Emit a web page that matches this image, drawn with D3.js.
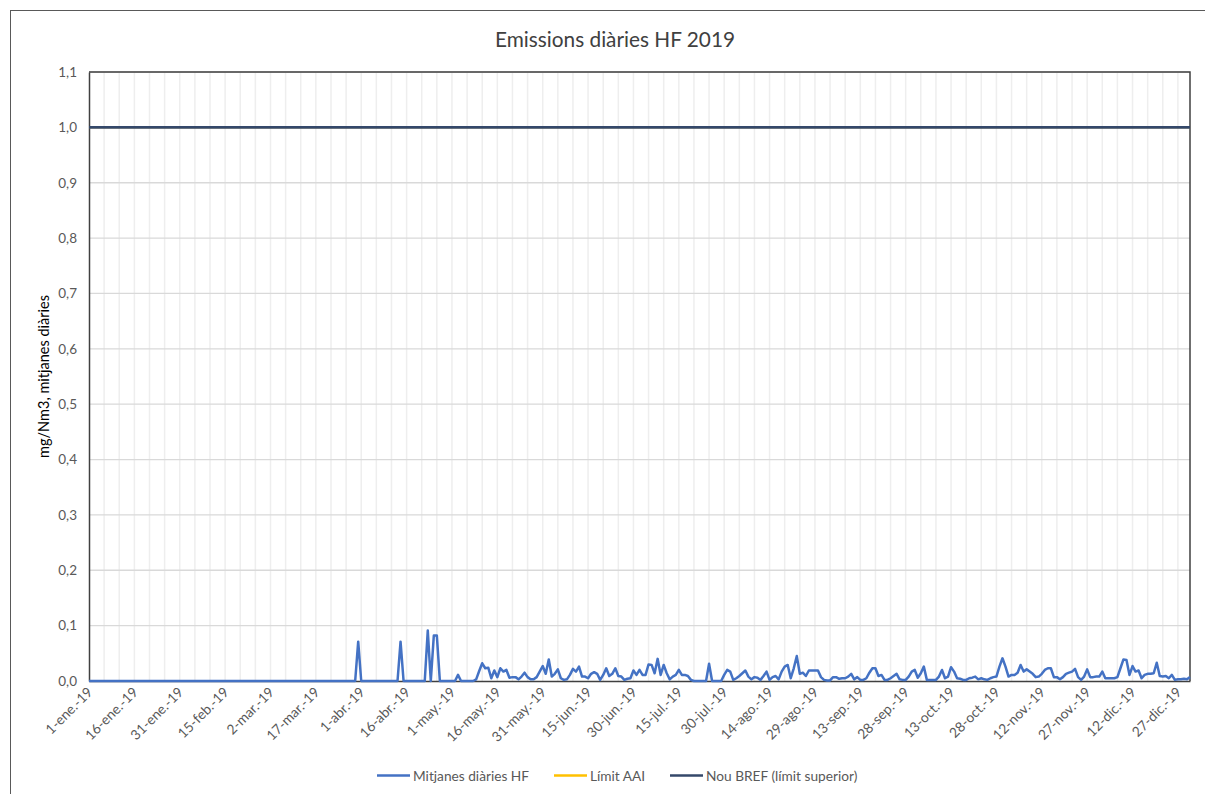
<!DOCTYPE html>
<html>
<head>
<meta charset="utf-8">
<script src="https://cdn.jsdelivr.net/npm/d3@7"></script>
<style>
  html, body { margin: 0; padding: 0; background: #ffffff; }
  svg { display: block; font-family: Lato, "Liberation Sans", sans-serif; }
</style>
</head>
<body>
<svg id="chart" width="1205" height="794"></svg>
<script>
// Daily HF averages for 2019 (mg/Nm3), one value per day from 1 Jan to 31 Dec
const dailyHF = [
  // Jan–Mar (0–89)
  0,0,0,0,0,0,0,0,0,0, 0,0,0,0,0,0,0,0,0,0, 0,0,0,0,0,0,0,0,0,0,
  0,0,0,0,0,0,0,0,0,0, 0,0,0,0,0,0,0,0,0,0, 0,0,0,0,0,0,0,0,0,0,
  0,0,0,0,0,0,0,0,0,0, 0,0,0,0,0,0,0,0,0,0, 0,0,0,0,0,0,0,0,0,0.071,
  // 90–129
  0,0,0,0,0,0,0,0,0,0, 0,0,0,0.071,0,0,0,0,0,0, 0,0,0.091,0,0.082,0.082,0,0,0,0,
  0,0,0.011,0,0,0,0,0,0.003,0.018,
  // 130–169
  0.032,0.023,0.024,0.005,0.019,0.007,0.023,0.017,0.020,0.006,
  0.007,0.007,0.003,0.008,0.015,0.007,0.003,0.003,0.007,0.017,
  0.027,0.013,0.039,0.008,0.013,0.021,0.005,0.002,0.003,0.011,
  0.022,0.017,0.026,0.008,0.008,0.005,0.013,0.016,0.013,0.002,
  // 170–209
  0.011,0.023,0.009,0.013,0.023,0.009,0.008,0.002,0.004,0.005,
  0.019,0.011,0.020,0.011,0.011,0.030,0.029,0.014,0.040,0.011,
  0.029,0.014,0.003,0.008,0.011,0.020,0.011,0.011,0.009,0.002,
  0,0,0,0,0,0.031,0,0,0,0,
  // 210–249
  0.011,0.020,0.017,0.002,0.005,0.009,0.014,0.019,0.008,0.003,
  0.007,0.006,0.002,0.009,0.017,0.002,0.007,0.009,0.003,0.017,
  0.026,0.029,0.005,0.023,0.045,0.013,0.015,0.009,0.019,0.019,
  0.019,0.019,0.007,0.002,0.001,0.001,0.007,0.007,0.004,0.005,
  // 250–289
  0.005,0.008,0.013,0.003,0.007,0.002,0.002,0.005,0.015,0.023,
  0.023,0.009,0.011,0.002,0.002,0.005,0.009,0.013,0.003,0.002,
  0.002,0.008,0.017,0.020,0.006,0.014,0.026,0.002,0.002,0.002,
  0.002,0.008,0.020,0.005,0.008,0.025,0.017,0.005,0.004,0.002,
  // 290–329
  0.002,0.005,0.006,0.008,0.003,0.005,0.003,0.002,0.005,0.007,
  0.008,0.026,0.041,0.026,0.008,0.011,0.011,0.015,0.029,0.017,
  0.021,0.017,0.013,0.007,0.008,0.013,0.020,0.023,0.023,0.007,
  0.007,0.003,0.007,0.013,0.015,0.017,0.022,0.007,0.002,0.008,
  // 330–364
  0.021,0.007,0.007,0.008,0.008,0.017,0.005,0.005,0.005,0.005,
  0.007,0.023,0.039,0.038,0.011,0.027,0.017,0.019,0.005,0.011,
  0.013,0.013,0.014,0.033,0.009,0.008,0.009,0.005,0.011,0.002,
  0.003,0.003,0.004,0.003,0.007
];

// Reference limits (mg/Nm3)
const limitAAI = 1.0;
const limitBREF = 1.0;

// Axis settings
const yTicks = [0, 0.1, 0.2, 0.3, 0.4, 0.5, 0.6, 0.7, 0.8, 0.9, 1.0, 1.1];
const monthAbbr = ["ene.", "feb.", "mar.", "abr.", "may.", "jun.", "jul.", "ago.", "sep.", "oct.", "nov.", "dic."];
const labelStepDays = 15;
const gridStepDays = 5;

const seriesNames = ["Mitjanes diàries HF", "Límit AAI", "Nou BREF (límit superior)"];
const seriesColors = ["#4472c4", "#ffc000", "#34486a"];

const svg = d3.select("#chart");
const W = 1205, H = 794;
const plot = { left: 89, top: 72, right: 1190, bottom: 681 };
const textColor = "#595959";

// Outer chart frame
svg.append("rect")
  .attr("x", 10.5).attr("y", 10.5)
  .attr("width", W + 20).attr("height", H + 20)
  .attr("fill", "none").attr("stroke", "#595959").attr("stroke-width", 1);

const start = new Date(2019, 0, 1);
const end = new Date(2019, 11, 31);
const days = d3.timeDay.range(start, new Date(2020, 0, 1));
const data = days.map((d, i) => ({ date: d, v: dailyHF[i] }));

const x = d3.scaleTime().domain([start, end]).range([plot.left, plot.right]);
const y = d3.scaleLinear().domain([0, 1.1]).range([plot.bottom, plot.top]);

// Title
svg.append("text")
  .attr("x", 615).attr("y", 47)
  .attr("text-anchor", "middle")
  .attr("font-size", 20.8)
  .attr("fill", "#404040")
  .text("Emissions diàries HF 2019");

// Vertical gridlines every 5 days
const gridDays = days.filter((d, i) => i > 0 && i % gridStepDays === 0);
svg.append("g")
  .selectAll("line")
  .data(gridDays)
  .join("line")
  .attr("x1", d => x(d)).attr("x2", d => x(d))
  .attr("y1", plot.top).attr("y2", plot.bottom)
  .attr("stroke", "#eeeeee").attr("stroke-width", 1.5);

// Horizontal gridlines
svg.append("g")
  .selectAll("line")
  .data(yTicks.filter(t => t > 0))
  .join("line")
  .attr("x1", plot.left).attr("x2", plot.right)
  .attr("y1", d => y(d)).attr("y2", d => y(d))
  .attr("stroke", "#d9d9d9").attr("stroke-width", 1.3);

// Y axis
const fmt = v => d3.format(".1f")(v).replace(".", ",");
const yAxis = svg.append("g")
  .attr("transform", `translate(${plot.left},0)`)
  .call(d3.axisLeft(y).tickValues(yTicks).tickFormat(fmt).tickSize(0).tickPadding(12));
yAxis.select(".domain").attr("stroke", "#404040").attr("stroke-width", 1.5);
yAxis.selectAll("text").attr("font-size", 13.5).attr("fill", textColor)
  .attr("font-family", "Lato, sans-serif");

// Y axis title
svg.append("text")
  .attr("transform", `translate(49,${(plot.top + plot.bottom) / 2}) rotate(-90)`)
  .attr("text-anchor", "middle")
  .attr("font-size", 14.5)
  .attr("fill", "#000000")
  .text("mg/Nm3, mitjanes diàries");

// Plot frame (top and right edges)
svg.append("path")
  .attr("d", `M${plot.left},${plot.top}H${plot.right}V${plot.bottom}`)
  .attr("fill", "none").attr("stroke", "#404040").attr("stroke-width", 1.5);

// X axis with date labels every 15 days
const labelDays = days.filter((d, i) => i % labelStepDays === 0);
const xAxis = svg.append("g")
  .attr("transform", `translate(0,${plot.bottom})`)
  .call(d3.axisBottom(x).tickValues(labelDays)
    .tickFormat(d => `${d.getDate()}-${monthAbbr[d.getMonth()]}-19`)
    .tickSize(0).tickPadding(0));
xAxis.select(".domain").attr("stroke", "#404040").attr("stroke-width", 1.5);
xAxis.selectAll("text")
  .attr("font-size", 13.8).attr("fill", textColor)
  .attr("font-family", "Lato, sans-serif")
  .attr("text-anchor", "end")
  .attr("dy", 0).attr("y", 0)
  .attr("transform", "translate(4,12) rotate(-45)");

// Limit lines (AAI drawn first, BREF on top and slightly wider so it covers it)
const limitLine = v => d3.line().x(d => x(d.date)).y(() => y(v));
svg.append("path").datum(data)
  .attr("d", limitLine(limitAAI))
  .attr("fill", "none").attr("stroke", seriesColors[1]).attr("stroke-width", 2);
svg.append("path").datum(data)
  .attr("d", limitLine(limitBREF))
  .attr("fill", "none").attr("stroke", seriesColors[2]).attr("stroke-width", 2.75);

// Daily average line
svg.append("path").datum(data)
  .attr("d", d3.line().x(d => x(d.date)).y(d => y(d.v)))
  .attr("fill", "none").attr("stroke", seriesColors[0])
  .attr("stroke-width", 2.5).attr("stroke-linejoin", "round");

// Legend
const legendX = [377, 554, 670];
const legend = svg.append("g");
seriesNames.forEach((name, i) => {
  legend.append("line")
    .attr("x1", legendX[i]).attr("x2", legendX[i] + 33)
    .attr("y1", 775.5).attr("y2", 775.5)
    .attr("stroke", seriesColors[i]).attr("stroke-width", 2.5);
  legend.append("text")
    .attr("x", legendX[i] + 36).attr("y", 780.5)
    .attr("font-size", 13.7).attr("fill", textColor)
    .text(name);
});
</script>
</body>
</html>
